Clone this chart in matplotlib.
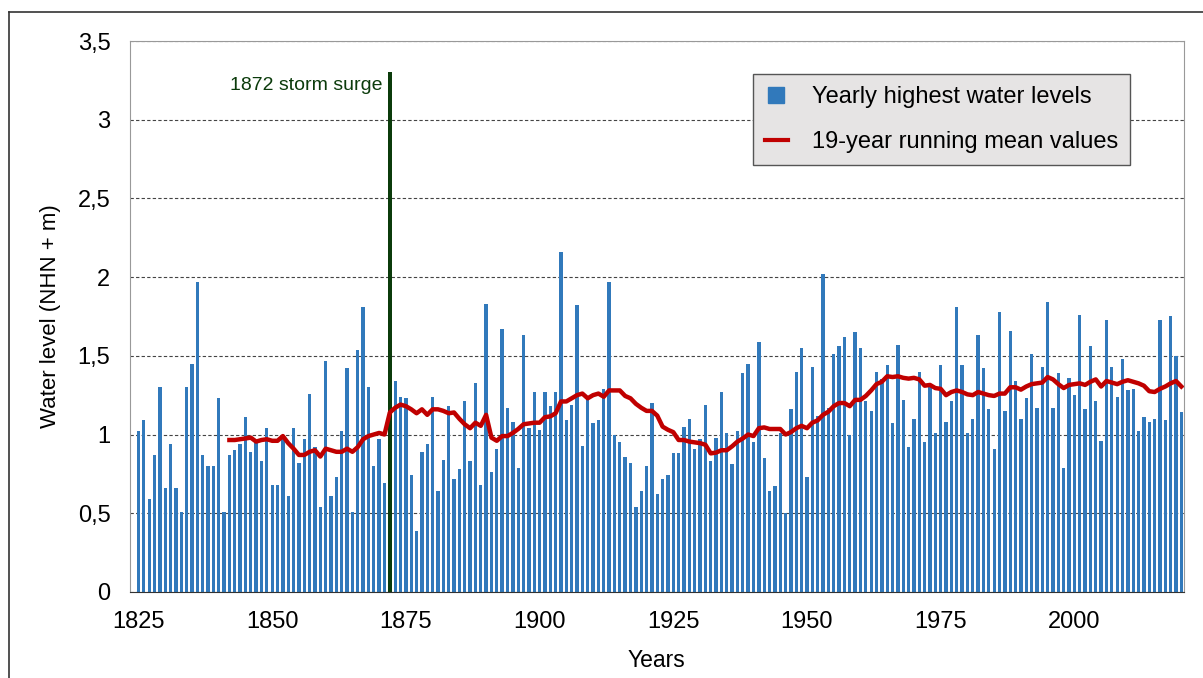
import numpy as np
import matplotlib
matplotlib.use("Agg")
import matplotlib.pyplot as plt
from matplotlib.lines import Line2D
from matplotlib.ticker import FuncFormatter

plt.rcParams['font.family'] = ['Liberation Sans', 'DejaVu Sans']

# yearly highest water levels (m NHN), 1825-2020
years = np.arange(1825, 2021)
levels = [
    1.02, 1.09, 0.59, 0.87, 1.30, 0.66, 0.94, 0.66, 0.51, 1.30,   # 1825
    1.45, 1.97, 0.87, 0.80, 0.80, 1.23, 0.51, 0.87, 0.90, 0.94,   # 1835
    1.11, 0.89, 0.96, 0.83, 1.04, 0.68, 0.68, 0.99, 0.61, 1.04,   # 1845
    0.82, 0.97, 1.26, 0.92, 0.54, 1.47, 0.61, 0.73, 1.02, 1.42,   # 1855
    0.51, 1.54, 1.81, 1.30, 0.80, 0.97, 0.69, 3.30, 1.34, 1.24,   # 1865
    1.23, 0.74, 0.39, 0.89, 0.94, 1.24, 0.64, 0.84, 1.18, 0.72,   # 1875
    0.78, 1.21, 0.83, 1.33, 0.68, 1.83, 0.76, 0.91, 1.67, 1.17,   # 1885
    1.08, 0.79, 1.63, 1.04, 1.27, 1.03, 1.27, 1.18, 1.27, 2.16,   # 1895
    1.09, 1.19, 1.82, 0.93, 1.23, 1.07, 1.09, 1.29, 1.97, 1.00,   # 1905
    0.95, 0.86, 0.82, 0.54, 0.64, 0.80, 1.20, 0.62, 0.72, 0.74,   # 1915
    0.88, 0.88, 1.05, 1.10, 0.91, 0.97, 1.19, 0.83, 0.98, 1.27,   # 1925
    1.01, 0.81, 1.02, 1.39, 1.45, 0.95, 1.59, 0.85, 0.64, 0.67,   # 1935
    1.01, 0.50, 1.16, 1.40, 1.55, 0.73, 1.43, 1.12, 2.02, 1.17,   # 1945
    1.51, 1.56, 1.62, 1.00, 1.65, 1.55, 1.21, 1.15, 1.40, 1.35,   # 1955
    1.44, 1.07, 1.57, 1.22, 0.92, 1.10, 1.40, 0.95, 1.30, 1.01,   # 1965
    1.44, 1.08, 1.21, 1.81, 1.44, 1.01, 1.10, 1.63, 1.42, 1.16,   # 1975
    0.91, 1.78, 1.15, 1.66, 1.34, 1.10, 1.23, 1.51, 1.17, 1.43,   # 1985
    1.84, 1.17, 1.39, 0.79, 1.36, 1.25, 1.76, 1.16, 1.56, 1.21,   # 1995
    0.96, 1.73, 1.43, 1.24, 1.48, 1.28, 1.29, 1.02, 1.11, 1.08,   # 2005
    1.10, 1.73, 1.09, 1.75, 1.50, 1.14,                           # 2015
]

# 19-year running mean, 1842-2020
mean_years = np.arange(1842, 2021)
running_mean = [
    0.965, 0.965, 0.97, 0.975, 0.98, 0.955, 0.965, 0.97,          # 1842
    0.96, 0.96, 0.99, 0.945, 0.91, 0.87, 0.87, 0.89, 0.90, 0.86,  # 1850
    0.91, 0.90, 0.89, 0.89, 0.91, 0.89, 0.92, 0.97, 0.99, 1.00,   # 1860
    1.01, 1.00, 1.14, 1.17, 1.19, 1.18, 1.16, 1.135, 1.16, 1.125, # 1870
    1.16, 1.16, 1.15, 1.135, 1.14, 1.10, 1.065, 1.04, 1.075, 1.055,  # 1880
    1.125, 0.98, 0.96, 0.99, 0.99, 1.01, 1.035, 1.065, 1.07, 1.075,  # 1890
    1.075, 1.11, 1.115, 1.135, 1.21, 1.21, 1.23, 1.25, 1.26, 1.23,   # 1900
    1.25, 1.26, 1.24, 1.28, 1.28, 1.28, 1.245, 1.23, 1.195, 1.17,    # 1910
    1.15, 1.15, 1.12, 1.05, 1.03, 1.015, 0.965, 0.965, 0.955, 0.95,  # 1920
    0.945, 0.935, 0.88, 0.885, 0.90, 0.90, 0.925, 0.955, 0.975, 1.00,  # 1930
    0.99, 1.04, 1.045, 1.035, 1.035, 1.035, 1.00, 1.015, 1.04, 1.055,  # 1940
    1.04, 1.075, 1.09, 1.125, 1.145, 1.18, 1.20, 1.20, 1.18, 1.22,     # 1950
    1.22, 1.245, 1.28, 1.32, 1.335, 1.37, 1.365, 1.37, 1.36, 1.355,    # 1960
    1.36, 1.35, 1.31, 1.315, 1.295, 1.29, 1.25, 1.27, 1.28, 1.27,      # 1970
    1.255, 1.25, 1.27, 1.26, 1.25, 1.245, 1.26, 1.26, 1.30, 1.30,      # 1980
    1.285, 1.305, 1.32, 1.325, 1.33, 1.365, 1.35, 1.32, 1.295, 1.315,  # 1990
    1.32, 1.325, 1.315, 1.335, 1.35, 1.305, 1.34, 1.33, 1.32, 1.335,   # 2000
    1.345, 1.335, 1.325, 1.31, 1.275, 1.27, 1.29, 1.305, 1.325, 1.34,  # 2010
    1.305,                                                             # 2020
]

storm_year = 1872
blue = '#3179bb'
green = '#0b3b0b'
red = '#c00000'

fig = plt.figure(figsize=(12.03, 6.78), dpi=100)
ax = fig.add_axes([0.108, 0.127, 0.876, 0.8125])

colors = [green if y == storm_year else blue for y in years]
widths = [0.75 if y == storm_year else 0.62 for y in years]
ax.bar(years, levels, width=widths, color=colors, zorder=2)
ax.plot(mean_years, running_mean, color=red, lw=3.2, zorder=3)

ax.text(storm_year - 1.3, 3.22, '1872 storm surge', color=green,
        fontsize=14, ha='right', va='center')

ax.set_xlim(1823.4, 2020.45)
ax.set_ylim(0, 3.5)
ax.set_xticks(np.arange(1825, 2001, 25))
ax.set_yticks(np.arange(0, 3.51, 0.5))
ax.yaxis.set_major_formatter(FuncFormatter(
    lambda v, p: ('%g' % v).replace('.', ',')))
ax.tick_params(axis='both', length=0, labelsize=17)
ax.tick_params(axis='y', pad=14)
ax.tick_params(axis='x', pad=14)
ax.grid(axis='y', linestyle=(0, (3, 2)), color='#444444', lw=0.8, zorder=1)

for s in ['left', 'top', 'right']:
    ax.spines[s].set_color('#999999')
ax.spines['bottom'].set_color('#333333')

ax.set_xlabel('Years', fontsize=16.5, labelpad=11)
ax.set_ylabel('Water level (NHN + m)', fontsize=16, labelpad=12)

handles = [
    Line2D([], [], marker='s', ls='none', color=blue, markersize=11),
    Line2D([], [], color=red, lw=3),
]
leg = ax.legend(handles, ['Yearly highest water levels', '19-year running mean values'],
                loc='upper left', bbox_to_anchor=(0.591, 0.94), fontsize=17,
                frameon=True, fancybox=False, framealpha=1,
                facecolor='#e6e4e4', edgecolor='#555555',
                borderaxespad=0, borderpad=0.5, handlelength=1.0,
                handletextpad=1.0, labelspacing=1.0)
leg.get_frame().set_linewidth(1.0)

# outer frame lines of the figure
fig.add_artist(Line2D([0.0075, 0.0075], [0, 0.9823], color='#333333', lw=1.2))
fig.add_artist(Line2D([0.0075, 1.0], [0.9823, 0.9823], color='#333333', lw=1.2))

fig.savefig('out.png', dpi=100)
